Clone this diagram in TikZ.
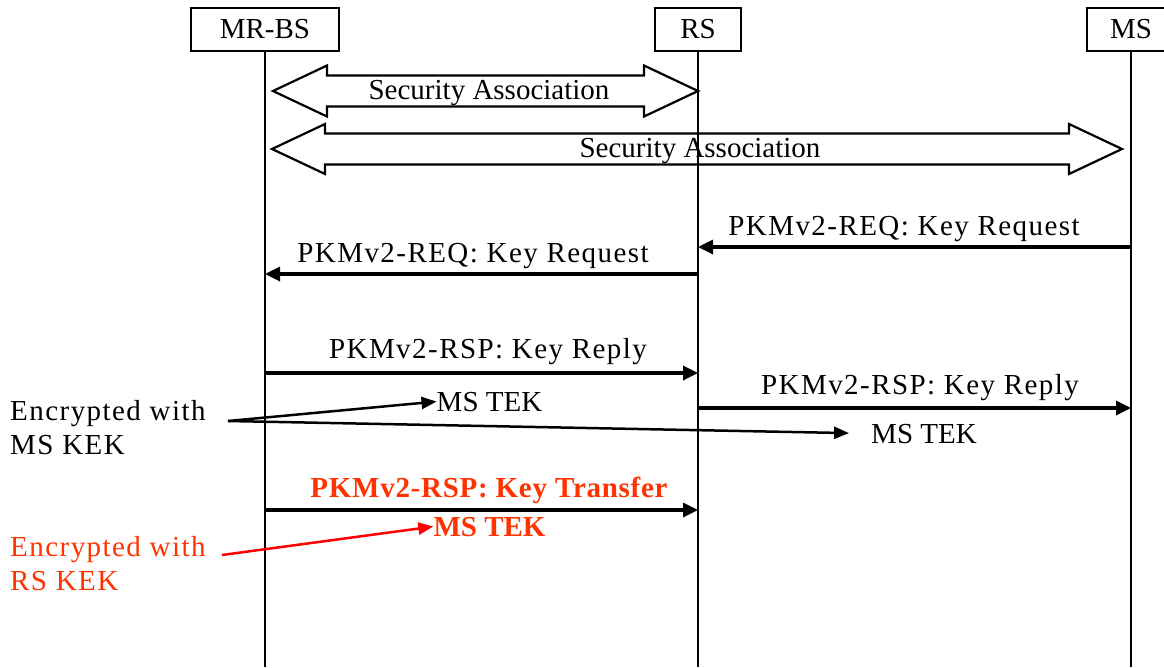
\documentclass[tikz,border=0pt]{standalone}
\usepackage{fontspec}
\setmainfont{Liberation Serif}
\newfontfamily\spacedfont[LetterSpace=5]{Liberation Serif}
\newfontfamily\xferfont[LetterSpace=2.5]{Liberation Serif}
\usetikzlibrary{arrows.meta,calc,positioning}
\definecolor{keyred}{RGB}{255,51,0}
\tikzset{entity/.style={draw, line width=1.8pt, minimum height=43pt, inner sep=0pt},
         lifeline/.style={line width=1.8pt},
         sa/.style={draw, line width=2.2pt},
         msg/.style={line width=3.3pt, -{Triangle[length=15pt,width=14pt]}},
         note/.style={line width=2.5pt, -{Triangle[length=15pt,width=12pt]}},
         lbl/.style={inner sep=0pt, anchor=base, font={\spacedfont\fontsize{29}{34}\selectfont}},
         tek/.style={inner sep=0pt, anchor=base}}

\begin{document}
\begin{tikzpicture}[x=1pt,y=-1pt,font=\fontsize{29}{34}\selectfont]
    \useasboundingbox (0,0) rectangle (1164,667);

    % entities and lifelines
    \node [entity, minimum width=148pt] (mrbs) at (265,29.5) {MR-BS};
    \node [entity, minimum width=86pt] (rs) at (698,29.5) {RS};
    \node [entity, minimum width=88pt] (ms) at (1131,29.5) {MS};
    \coordinate (mrbsend) at (265,667);
    \coordinate (rsend) at (698,667);
    \coordinate (msend) at (1131,667);
    \draw [lifeline] (mrbs.south) -- (mrbsend);
    \draw [lifeline] (rs.south) -- (rsend);
    \draw [lifeline] (ms.south) -- (msend);

    % security associations
    \coordinate (sa1l) at (273,91);
    \coordinate (sa1r) at (698,91);
    \draw [sa] (sa1l) -- ++(54,-25.5) -- ++(0,10) -- ($(sa1r)+(-54,-15.5)$) -- ++(0,-10) -- (sa1r)
        -- ++(-54,25.5) -- ++(0,-10) -- ($(sa1l)+(54,15.5)$) -- ++(0,10) -- cycle;
    \node [tek] (sa1) at (489,99) {Security Association};
    \coordinate (sa2l) at (272,149);
    \coordinate (sa2r) at (1122,149);
    \draw [sa] (sa2l) -- ++(53,-25) -- ++(0,9.5) -- ($(sa2r)+(-53,-15.5)$) -- ++(0,-9.5) -- (sa2r)
        -- ++(-53,25) -- ++(0,-9.5) -- ($(sa2l)+(53,15.5)$) -- ++(0,9.5) -- cycle;
    \node [tek] (sa2) at (700,157) {Security Association};

    % key request
    \node [lbl] (req1) at (904,235) {PKMv2-REQ: Key Request};
    \draw [msg] (ms |- 0,247) -- (rs |- 0,247);
    \node [lbl] (req2) at (473,262) {PKMv2-REQ: Key Request};
    \draw [msg] (rs |- 0,274) -- (mrbs |- 0,274);

    % key reply
    \node [lbl] (rsp1) at (488,358) {PKMv2-RSP: Key Reply};
    \draw [msg] (mrbs |- 0,373) -- (rs |- 0,373);
    \node [tek] (tek1) at (489.5,411) {MS TEK};
    \node [lbl] (rsp2) at (920,394) {PKMv2-RSP: Key Reply};
    \draw [msg] (rs |- 0,408) -- (ms |- 0,408);
    \node [tek] (tek2) at (924,443) {MS TEK};

    % key transfer
    \node [lbl, font={\xferfont\bfseries\fontsize{29}{34}\selectfont}, text=keyred] (xfer) at (489,497) {PKMv2-RSP: Key Transfer};
    \draw [msg] (mrbs |- 0,510) -- (rs |- 0,510);
    \node [tek, font={\bfseries\fontsize{29}{34}\selectfont}, text=keyred] (tek3) at (489.5,536) {MS TEK};

    % notes
    \node [lbl, anchor=base west, align=left] (enc1) at (10,454) {Encrypted with\\MS KEK};
    \node [lbl, anchor=base west, align=left, text=keyred] (enc2) at (10,590) {Encrypted with\\RS KEK};
    \coordinate (enc1out) at (228,421);
    \coordinate (enc2out) at (222,555);
    \draw [note] (enc1out) -- (tek1.west);
    \draw [note, shorten >=22pt] (enc1out) -- (tek2.west);
    \draw [note, red] (enc2out) -- (tek3.west);
\end{tikzpicture}
\end{document}
